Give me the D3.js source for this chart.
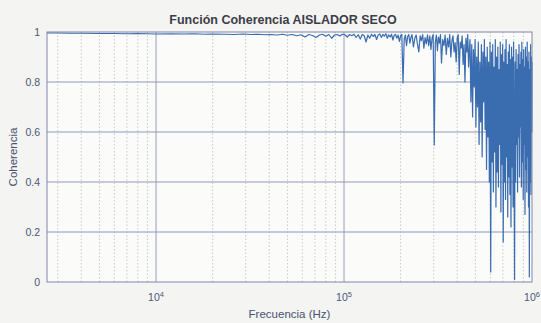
<!DOCTYPE html>
<html>
<head>
<meta charset="utf-8">
<script src="https://cdn.jsdelivr.net/npm/d3@7"></script>
<style>
  html, body { margin: 0; padding: 0; background: #f4f4f2; }
  svg { display: block; font-family: "Liberation Sans", Arial, sans-serif; }
</style>
</head>
<body>
<svg id="chart" width="541" height="323"></svg>
<script>
// Frequency (Hz) and magnitude-squared coherence
const freqHz = [
  2630, 3000, 3500, 4000, 5000, 6000, 7000, 8000, 9000, 10000,
  12000, 14000, 16000, 18000, 20000, 23000, 26000, 29000, 32000, 35000,
  38000, 41000, 44000, 47000, 50000, 53000, 56000, 59000, 62000, 65000,
  68000, 71000, 74000, 77000, 80000, 83000, 86000, 89000, 92000, 95000,
  98000, 101000, 104000, 107000, 110000, 113000, 116000, 119000, 122000, 125000,
  128000, 131000, 134000, 137000, 140000, 143000, 146000, 149000, 152000, 155000,
  158000, 161000, 164000, 167000, 170000, 173000, 176000, 179000, 182000, 185000,
  188000, 191000, 194000, 197000, 200000, 203000, 206000, 209000, 212000, 215000,
  218000, 221000, 224000, 227000, 230000, 234000, 238000, 242000, 246000, 250000,
  254000, 258000, 262000, 266000, 270000, 274000, 278000, 282000, 286000, 290000,
  294000, 298000, 302000, 306000, 310000, 314000, 318000, 322000, 326000, 330000,
  335000, 340000, 345000, 350000, 355000, 360000, 365000, 370000, 375000, 380000,
  385000, 390000, 395000, 400000, 405000, 410000, 415000, 420000, 425000, 430000,
  435000, 440000, 445000, 450000, 455000, 460000, 465000,
  468000, 473000, 478000, 483000, 488000, 493000, 498000, 503000, 508000, 513000,
  518000, 523000, 528000, 533000, 538000, 543000, 548000, 553000, 558000, 563000,
  568000, 573000, 578000, 583000, 588000, 593000, 598000, 603000, 608000, 613000,
  618000, 623000, 628000, 633000, 638000, 643000, 648000, 653000, 658000, 663000,
  668000, 673000, 678000, 683000, 688000, 693000, 698000, 703000, 708000, 713000,
  718000, 723000, 728000, 733000, 738000, 743000, 748000, 753000, 758000, 763000,
  768000, 773000, 778000, 783000, 788000, 793000, 798000, 803000, 808000, 813000,
  818000, 823000, 828000, 833000, 838000, 843000, 848000, 853000, 858000, 863000,
  868000, 873000, 878000, 883000, 888000, 893000, 898000, 903000, 908000, 913000,
  918000, 923000, 928000, 933000, 938000, 943000, 948000, 953000, 958000, 963000,
  968000, 973000, 978000, 983000, 988000, 993000, 998000, 1000000
];

const coherence = [
  0.996, 0.996, 0.995, 0.995, 0.994, 0.994, 0.993, 0.994, 0.993, 0.992,
  0.993, 0.992, 0.993, 0.991, 0.992, 0.991, 0.990, 0.992, 0.990, 0.991,
  0.989, 0.990, 0.988, 0.991, 0.987, 0.990, 0.985, 0.989, 0.980, 0.990,
  0.986, 0.978, 0.988, 0.991, 0.983, 0.990, 0.975, 0.988, 0.990, 0.984,
  0.991, 0.989, 0.980, 0.990, 0.985, 0.991, 0.978, 0.989, 0.972, 0.990,
  0.985, 0.960, 0.988, 0.975, 0.991, 0.982, 0.990, 0.970, 0.988, 0.992,
  0.978, 0.990, 0.984, 0.993, 0.975, 0.989, 0.980, 0.991, 0.968, 0.987,
  0.990, 0.975, 0.988, 0.962, 0.985, 0.990, 0.796, 0.970, 0.988, 0.945,
  0.982, 0.990, 0.955, 0.978, 0.990, 0.940, 0.975, 0.988, 0.950, 0.920,
  0.985, 0.965, 0.990, 0.935, 0.978, 0.952, 0.989, 0.945, 0.985, 0.930,
  0.976, 0.990, 0.548, 0.960, 0.988, 0.925, 0.980, 0.955, 0.990, 0.876,
  0.970, 0.945, 0.988, 0.910, 0.975, 0.940, 0.990, 0.900, 0.965, 0.985,
  0.920, 0.958, 0.880, 0.975, 0.990, 0.830, 0.960, 0.935, 0.985, 0.870,
  0.950, 0.800, 0.975, 0.920, 0.990, 0.860, 0.940,
  0.97, 0.72, 0.95, 0.66, 0.93, 0.78, 0.97, 0.62, 0.90, 0.70,
  0.96, 0.55, 0.88, 0.64, 0.95, 0.50, 0.92, 0.72, 0.97, 0.61,
  0.90, 0.45, 0.94, 0.58, 0.88, 0.40, 0.96, 0.04, 0.92, 0.48,
  0.95, 0.36, 0.86, 0.52, 0.97, 0.30, 0.90, 0.44, 0.94, 0.38,
  0.85, 0.55, 0.96, 0.28, 0.91, 0.47, 0.95, 0.16, 0.88, 0.40,
  0.93, 0.33, 0.97, 0.50, 0.87, 0.26, 0.92, 0.42, 0.95, 0.35,
  0.89, 0.22, 0.94, 0.46, 0.90, 0.30, 0.96, 0.52, 0.01, 0.88,
  0.40, 0.93, 0.55, 0.85, 0.36, 0.91, 0.58, 0.95, 0.42, 0.87,
  0.62, 0.92, 0.38, 0.96, 0.48, 0.89, 0.33, 0.93, 0.55, 0.86,
  0.27, 0.94, 0.45, 0.90, 0.36, 0.96, 0.50, 0.88, 0.30, 0.92,
  0.02, 0.85, 0.40, 0.95, 0.35, 0.90, 0.60, 0.88
];

const yTicks = [0, 0.2, 0.4, 0.6, 0.8, 1];
const yTickLabels = ["0", "0.2", "0.4", "0.6", "0.8", "1"];
const xDecades = [1e4, 1e5, 1e6];
const xDecadeExponents = ["4", "5", "6"];

const titleText = "Función Coherencia AISLADOR SECO";
const xLabelText = "Frecuencia (Hz)";
const yLabelText = "Coherencia";

const svg = d3.select("#chart");
const margin = { left: 47, right: 9, top: 32, bottom: 41 };
const W = 541, H = 323;
const innerW = W - margin.left - margin.right;
const innerH = H - margin.top - margin.bottom;

const x = d3.scaleLog().domain([2630, 1e6]).range([0, innerW]);
const y = d3.scaleLinear().domain([0, 1]).range([innerH, 0]);

const g = svg.append("g").attr("transform", `translate(${margin.left},${margin.top})`);

g.append("rect").attr("width", innerW).attr("height", innerH).attr("fill", "#fbfbfa");

// minor vertical grid (log)
const minorTicks = x.ticks().filter(t => xDecades.indexOf(t) < 0);
g.append("g").selectAll("line").data(minorTicks).join("line")
  .attr("x1", d => x(d)).attr("x2", d => x(d))
  .attr("y1", 0).attr("y2", innerH)
  .attr("stroke", "#b9bcc8").attr("stroke-width", 0.8)
  .attr("stroke-dasharray", "1.5,2");

// decade vertical grid
g.append("g").selectAll("line").data(xDecades.slice(0, 2)).join("line")
  .attr("x1", d => x(d)).attr("x2", d => x(d))
  .attr("y1", 0).attr("y2", innerH)
  .attr("stroke", "#8d93ab").attr("stroke-width", 0.9);

// horizontal grid
g.append("g").selectAll("line").data(yTicks.slice(1, 5)).join("line")
  .attr("x1", 0).attr("x2", innerW)
  .attr("y1", d => y(d)).attr("y2", d => y(d))
  .attr("stroke", "#8f98bd").attr("stroke-width", 1);

// coherence trace
const pts = freqHz.map((f, i) => [f, coherence[i]]);
g.append("path")
  .datum(pts)
  .attr("fill", "none")
  .attr("stroke", "#3a6cb0")
  .attr("stroke-width", 1.2)
  .attr("stroke-linejoin", "round")
  .attr("d", d3.line().x(d => x(d[0])).y(d => y(d[1])));

// frame
g.append("rect").attr("width", innerW).attr("height", innerH)
  .attr("fill", "none").attr("stroke", "#7f86a8").attr("stroke-width", 1);

// y axis labels
const tickColor = "#4d5676";
g.append("g").selectAll("text").data(yTicks).join("text")
  .attr("x", -7).attr("y", d => y(d)).attr("dy", "0.35em")
  .attr("text-anchor", "end").attr("font-size", 10.5).attr("fill", tickColor)
  .text((d, i) => yTickLabels[i]);

// x axis labels (10^n)
const xl = g.append("g").selectAll("text").data(xDecades).join("text")
  .attr("x", d => x(d)).attr("y", innerH + 19)
  .attr("text-anchor", "middle").attr("font-size", 10.5).attr("fill", tickColor);
xl.append("tspan").text("10");
xl.append("tspan").attr("dy", -4).attr("font-size", 7.5).text((d, i) => xDecadeExponents[i]);

// axis titles
svg.append("text")
  .attr("x", margin.left + innerW / 2).attr("y", 318)
  .attr("text-anchor", "middle").attr("font-size", 11.5).attr("fill", "#4a5170")
  .text(xLabelText);

svg.append("text")
  .attr("transform", `translate(17,${margin.top + innerH / 2}) rotate(-90)`)
  .attr("text-anchor", "middle").attr("font-size", 11.5).attr("fill", "#4a5170")
  .text(yLabelText);

svg.append("text")
  .attr("x", 283).attr("y", 24)
  .attr("text-anchor", "middle").attr("font-size", 12.5).attr("font-weight", "bold")
  .attr("fill", "#3b3d48")
  .text(titleText);
</script>
</body>
</html>
